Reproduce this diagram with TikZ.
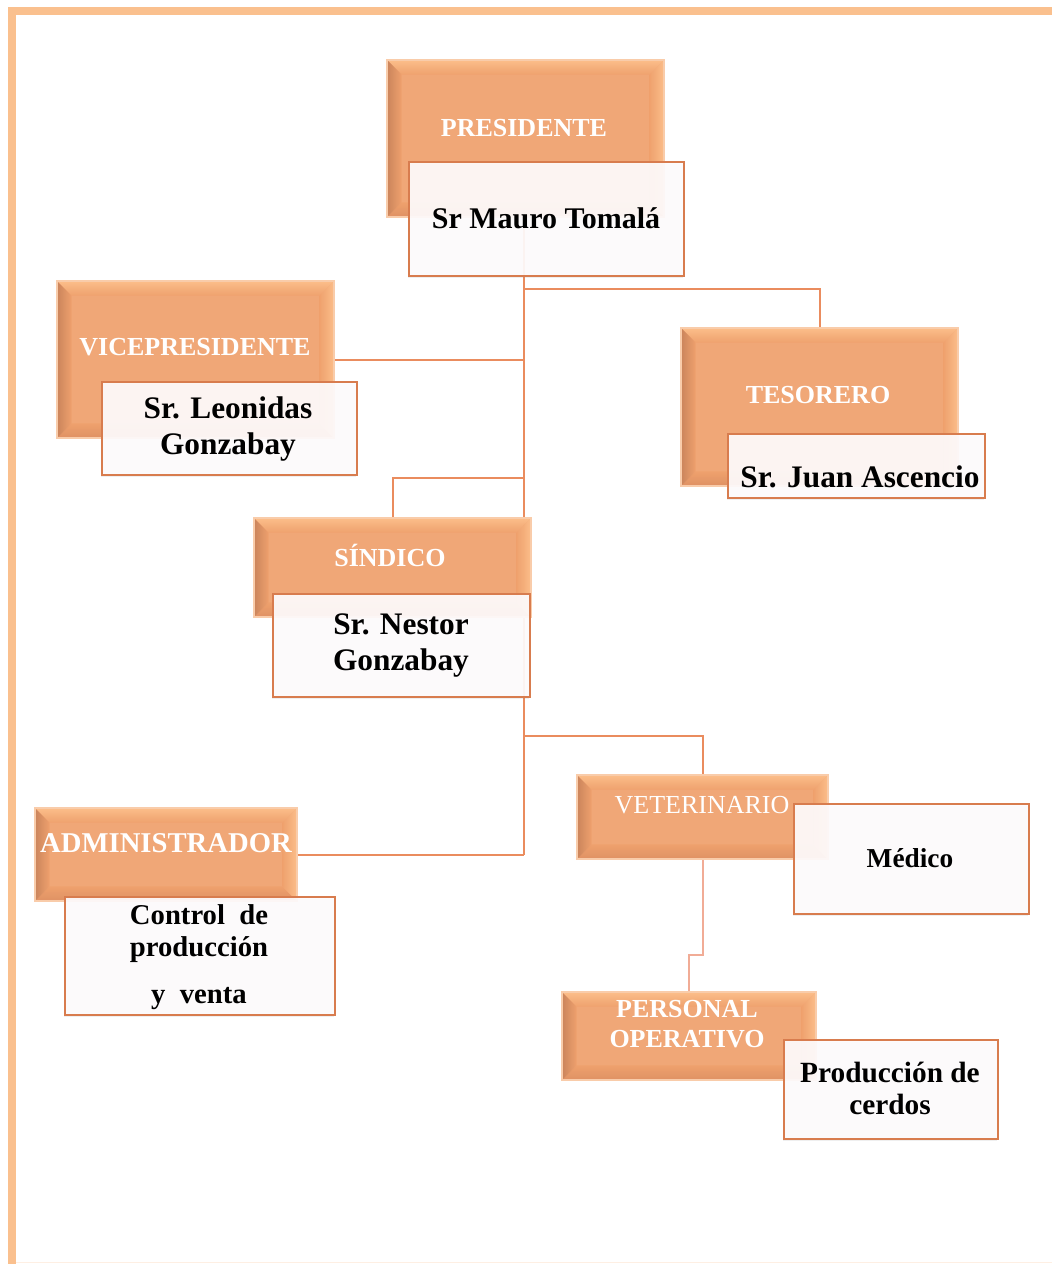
\documentclass[tikz,border=0pt]{standalone}
\usepackage{fontspec}
\setmainfont{Liberation Serif}
\usetikzlibrary{calc,shadows}

\definecolor{frameorange}{RGB}{250,192,142}
\definecolor{obmain}{RGB}{239,161,109}
\definecolor{obdark}{RGB}{200,130,90}
\definecolor{oblight}{RGB}{253,192,140}
\definecolor{oblow}{RGB}{222,144,98}
\definecolor{obhalo}{RGB}{249,204,170}
\definecolor{wbedge}{RGB}{216,124,78}
\definecolor{wbfill}{RGB}{254,251,252}
\definecolor{linkcol}{RGB}{234,140,94}
\definecolor{linksoft}{RGB}{241,172,150}

\pgfdeclarelayer{paper}
\pgfdeclarelayer{bg}
\pgfsetlayers{paper,bg,main}

\tikzset{
  bev/.store in=\bevsize, bev=11pt,
  orgbox/.style 2 args={minimum width=#1, minimum height=#2, inner sep=0pt, outer sep=0pt,
    fill=obmain, fill opacity=0.93, draw=obhalo, line width=1.4pt,
    path picture={
      \path (path picture bounding box.north west) coordinate (pNW)
            (path picture bounding box.south east) coordinate (pSE);
      \path (pNW |- pSE) coordinate (pSW) (pSE |- pNW) coordinate (pNE);
      \shade[top color=oblight, bottom color=obmain]
        (pNW) -- (pNE) -- ($(pNE)+(-\bevsize,-\bevsize)$) -- ($(pNW)+(\bevsize,-\bevsize)$) -- cycle;
      \shade[top color=obmain, bottom color=oblow]
        (pSW) -- (pSE) -- ($(pSE)+(-\bevsize,\bevsize)$) -- ($(pSW)+(\bevsize,\bevsize)$) -- cycle;
      \shade[left color=obdark, right color=obmain]
        (pNW) -- ($(pNW)+(\bevsize,-\bevsize)$) -- ($(pSW)+(\bevsize,\bevsize)$) -- (pSW) -- cycle;
      \shade[left color=obmain, right color=oblight]
        (pNE) -- ($(pNE)+(-\bevsize,-\bevsize)$) -- ($(pSE)+(-\bevsize,\bevsize)$) -- (pSE) -- cycle;
    }},
  whitebox/.style 2 args={minimum width=#1, minimum height=#2, inner sep=0pt, outer sep=0pt,
    fill=wbfill, fill opacity=0.93, draw=wbedge, line width=1.6pt,
    drop shadow={shadow xshift=-1pt, shadow yshift=-1.5pt, opacity=0.12, fill=black!50}},
  ttl/.style={text=white, font=\bfseries\fontsize{19.5}{22.5}\selectfont, inner sep=0pt, align=center},
  nm/.style={text=black, font=\bfseries\fontsize{23.5}{27}\selectfont, inner sep=0pt, align=center},
  link/.style={draw=linkcol, line width=1.5pt},
  softlink/.style={draw=linksoft, line width=1.5pt}
}

\begin{document}
\begin{tikzpicture}[x=0.75pt,y=-0.75pt]
  % page and frame
  \begin{pgfonlayer}{paper}
    \fill[white] (0,0) rectangle (1052,1264);
  \end{pgfonlayer}
  \useasboundingbox (0,0) rectangle (1052,1264);
  \fill[frameorange] (8,7) rectangle (1052,15);
  \fill[frameorange] (8,7) rectangle (16,1264);
  \draw[frameorange!25, line width=1pt] (16,1262.5) -- (1052,1262.5);

  % junction points of the connectors
  \coordinate (tk) at (524,0);
  \coordinate (j1) at (524,289);
  \coordinate (j2) at (524,478);
  \coordinate (j3) at (524,736);
  \coordinate (j4) at (687,955);

  % Presidente
  \node[orgbox={207.75pt}{117.75pt}] (presO) at (525.5,138.5) {};
  \node[ttl] (presT) at (524,128) {PRESIDENTE};
  \node[whitebox={206.25pt}{85.5pt}] (presW) at (546.5,219) {};
  \node[nm, font=\bfseries\fontsize{22.5}{27}\selectfont] (presN) at (546,218) {Sr Mauro Tomalá};

  % Vicepresidente
  \node[orgbox={207.75pt}{117.75pt}] (viceO) at (195.5,359.5) {};
  \node[ttl] (viceT) at (195,347) {VICEPRESIDENTE};
  \node[whitebox={191.25pt}{69.75pt}] (viceW) at (229.5,428.5) {};
  \node[nm] (viceN) at (228,429) {Sr. Leonidas\\Gonzabay};

  % Tesorero
  \node[orgbox={207.75pt}{118.5pt}] (tesO) at (819.5,407) {};
  \node[ttl] (tesT) at (818,395) {TESORERO};
  \node[whitebox={192.75pt}{48pt}] (tesW) at (856.5,466) {};
  \node[nm] (tesN) at (860,477) {Sr. Juan Ascencio};

  % Síndico
  \node[orgbox={207.75pt}{74.25pt}] (sinO) at (392.5,567.5) {};
  \node[ttl] (sinT) at (390,555) {SÍNDICO};
  \node[whitebox={192.75pt}{77.25pt}] (sinW) at (401.5,645.5) {};
  \node[nm] (sinN) at (401,645) {Sr. Nestor\\Gonzabay};

  % Veterinario
  \node[orgbox={188.25pt}{63pt}] (vetO) at (702.5,817) {};
  \node[ttl, font=\fontsize{19.5}{22.5}\selectfont] (vetT) at (702,805) {VETERINARIO};
  \node[whitebox={176.25pt}{82.5pt}] (vetW) at (911.5,859) {};
  \node[nm, font=\bfseries\fontsize{20.5}{24}\selectfont] (vetN) at (910,858) {Médico};

  % Administrador
  \node[orgbox={196.5pt}{69.75pt}] (admO) at (166,854.5) {};
  \node[ttl, font=\bfseries\fontsize{21.5}{25}\selectfont] (admT) at (166,843) {ADMINISTRADOR};
  \node[whitebox={202.5pt}{88.5pt}] (admW) at (200,956) {};
  \node[nm, font=\bfseries\fontsize{21.5}{24}\selectfont] (admN) at (199,957) {Control~ de\\producción\\[11pt]y~ venta};

  % Personal operativo
  \node[orgbox={190.5pt}{66pt}] (perO) at (689,1036) {};
  \node[ttl] (perT) at (687,1024) {PERSONAL\\OPERATIVO};
  \node[whitebox={160.5pt}{74.25pt}] (perW) at (891,1089.5) {};
  \node[nm, font=\bfseries\fontsize{22}{24}\selectfont] (perN) at (890,1088) {Producción de\\cerdos};

  % connectors, drawn beneath the boxes
  \begin{pgfonlayer}{bg}
    \draw[link] (tk |- presW.center) -- (tk |- admO.east);
    \draw[link] (j1) -| (tesO.north);
    \draw[link] (viceO.east) -- (viceO.east -| tk);
    \draw[link] (j2) -| (sinO.north);
    \draw[link] (j3) -| (vetO.north);
    \draw[link] (admO.east) -- (admO.east -| tk);
    \draw[softlink] (vetO.south) -- (vetO.south |- j4) -| (perO.north);
  \end{pgfonlayer}
\end{tikzpicture}
\end{document}
